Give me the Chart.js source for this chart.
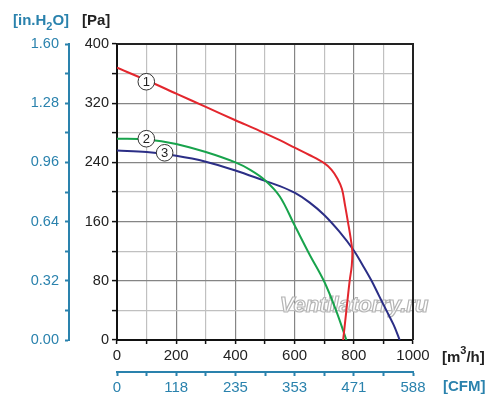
<!DOCTYPE html>
<html>
  <head>
    <script src="https://cdn.jsdelivr.net/npm/chart.js"></script>
    <style>
      body { margin: 0; background: #fff; }
      #wrap { width: 500px; height: 407px; }
    </style>
  </head>
  <body>
    <div id="wrap"><canvas id="fanChart"></canvas></div>

    <script>
      // curve 1 (red)
      const flow1 = [0, 100, 200, 300, 400, 480, 550, 600, 650, 700, 725, 745, 760, 770, 780, 790, 795, 793, 786, 775, 764];
      const pres1 = [368, 351, 333, 315, 297, 283, 270, 260, 250, 239, 230, 218, 204, 183, 160, 136, 120, 100, 80, 40, 0];
      // curve 2 (green)
      const flow2 = [0, 100, 200, 300, 400, 450, 500, 550, 600, 650, 700, 740, 775];
      const pres2 = [272, 271, 265, 254, 240, 230, 216, 194, 155, 116, 79, 40, 0];
      // curve 3 (navy)
      const flow3 = [0, 100, 200, 300, 400, 500, 550, 600, 650, 700, 750, 800, 830, 860, 885, 910, 935, 955];
      const pres3 = [256, 254, 249, 241, 229, 215, 208, 199, 186, 169, 147, 121, 101, 80, 60, 40, 20, 0];

      // curve number circles (data coords)
      const markNames = ['1', '2', '3'];
      const markFlow = [99, 99, 161];
      const markPres = [349, 272, 253];

      // tick labels
      const paTicks = ['0', '80', '160', '240', '320', '400'];
      const inH2OTicks = ['0.00', '0.32', '0.64', '0.96', '1.28', '1.60'];
      const flowTicks = ['0', '200', '400', '600', '800', '1000'];
      const cfmTicks = ['0', '118', '235', '353', '471', '588'];

      const BLUE = '#2a82ad';
      const FONT = 'Arial, "Liberation Sans", sans-serif';

      function pts(xs, ys) {
        return xs.map((x, i) => ({ x: x, y: ys[i] }));
      }
      function gridCol(step) {
        return ctx => (ctx.tick && ctx.tick.value % step === 0) ? '#858585' : '#c0c0c0';
      }

      const extras = {
        id: 'extras',
        beforeDatasetsDraw(chart) {
          const c = chart.ctx;
          // watermark
          c.save();
          c.font = 'italic bold 22px ' + FONT;
          c.textAlign = 'center';
          c.textBaseline = 'alphabetic';
          c.fillStyle = 'rgba(255,255,255,0.8)';
          c.fillText('Ventilatorry.ru', 354, 312);
          c.strokeStyle = '#b5b5b5';
          c.lineWidth = 1.2;
          c.strokeText('Ventilatorry.ru', 354, 312);
          c.restore();
        },
        afterDatasetsDraw(chart) {
          const c = chart.ctx;
          const a = chart.chartArea;
          const xs = chart.scales.x, ys = chart.scales.y;
          c.save();
          // frame top / right
          c.strokeStyle = '#222';
          c.lineWidth = 2;
          c.beginPath();
          c.moveTo(a.left, a.top);
          c.lineTo(a.right, a.top);
          c.lineTo(a.right, a.bottom);
          c.stroke();
          // circled curve numbers
          c.font = '13px ' + FONT;
          c.textAlign = 'center';
          c.textBaseline = 'middle';
          markNames.forEach((n, i) => {
            const px = xs.getPixelForValue(markFlow[i]);
            const py = ys.getPixelForValue(markPres[i]);
            c.beginPath();
            c.arc(px, py, 8.3, 0, Math.PI * 2);
            c.fillStyle = '#fff';
            c.fill();
            c.lineWidth = 1;
            c.strokeStyle = '#333';
            c.stroke();
            c.fillStyle = '#222';
            c.fillText(n, px, py + 0.5);
          });
          // axis titles
          c.textBaseline = 'alphabetic';
          c.textAlign = 'left';
          c.fillStyle = BLUE;
          c.font = 'bold 15px ' + FONT;
          let x0 = 13;
          c.fillText('[in.H', x0, 25);
          x0 += c.measureText('[in.H').width;
          c.font = 'bold 11px ' + FONT;
          c.fillText('2', x0, 30);
          x0 += c.measureText('2').width;
          c.font = 'bold 15px ' + FONT;
          c.fillText('O]', x0, 25);
          c.fillStyle = '#222';
          c.fillText('[Pa]', 82, 25);
          let x1 = 442;
          c.fillText('[m', x1, 362);
          x1 += c.measureText('[m').width;
          c.font = 'bold 11px ' + FONT;
          c.fillText('3', x1, 354);
          x1 += c.measureText('3').width;
          c.font = 'bold 15px ' + FONT;
          c.fillText('/h]', x1, 362);
          c.fillStyle = BLUE;
          c.fillText('[CFM]', 443, 391);
          c.restore();
        }
      };

      new Chart(document.getElementById('fanChart'), {
        type: 'scatter',
        data: {
          datasets: [
            { data: pts(flow1, pres1), borderColor: '#e3262d' },
            { data: pts(flow2, pres2), borderColor: '#18a34c' },
            { data: pts(flow3, pres3), borderColor: '#2b2e86' }
          ].map(d => Object.assign(d, {
            showLine: true, pointRadius: 0, borderWidth: 2, tension: 0.35, xAxisID: 'x', yAxisID: 'y'
          }))
        },
        options: {
          responsive: true,
          maintainAspectRatio: false,
          animation: false,
          layout: { padding: { left: 0, top: 44, right: 87, bottom: 0 } },
          plugins: { legend: { display: false }, tooltip: { enabled: false } },
          scales: {
            x: {
              type: 'linear', position: 'bottom', min: 0, max: 1000,
              afterFit: s => { s.height = 32; },
              ticks: {
                stepSize: 100, autoSkip: false, maxRotation: 0, padding: 3,
                color: '#222', font: { family: FONT, size: 15 },
                callback: v => v % 200 === 0 ? flowTicks[v / 200] : ''
              },
              grid: { color: gridCol(200), lineWidth: 1.2, tickLength: 4, tickColor: '#111', tickWidth: 1.5 },
              border: { color: '#111', width: 2 }
            },
            xCfm: {
              type: 'linear', position: 'bottom', min: 0, max: 1000,
              afterFit: s => { s.height = 35; },
              ticks: {
                stepSize: 100, autoSkip: false, maxRotation: 0, padding: 3,
                color: BLUE, font: { family: FONT, size: 15 },
                callback: v => v % 200 === 0 ? cfmTicks[v / 200] : ''
              },
              grid: { drawOnChartArea: false, tickLength: 4, tickColor: BLUE, tickWidth: 2 },
              border: { color: BLUE, width: 2 }
            },
            y: {
              type: 'linear', position: 'left', min: 0, max: 400,
              afterFit: s => { s.width = 48; },
              ticks: {
                stepSize: 40, autoSkip: false, padding: 3,
                color: '#222', font: { family: FONT, size: 14.5 },
                callback: v => v % 80 === 0 ? paTicks[v / 80] : ''
              },
              grid: { color: gridCol(80), lineWidth: 1.2, tickLength: 5, tickColor: '#111', tickWidth: 1.5 },
              border: { color: '#111', width: 2 }
            },
            yIn: {
              type: 'linear', position: 'left', min: 0, max: 400,
              afterFit: s => { s.width = 69; },
              ticks: {
                stepSize: 40, autoSkip: false, padding: 6,
                color: BLUE, font: { family: FONT, size: 14.5 },
                callback: v => v % 80 === 0 ? inH2OTicks[v / 80] : ''
              },
              grid: { drawOnChartArea: false, tickLength: 4, tickColor: BLUE, tickWidth: 2 },
              border: { color: BLUE, width: 2 }
            }
          }
        },
        plugins: [extras]
      });
    </script>
  </body>
</html>
